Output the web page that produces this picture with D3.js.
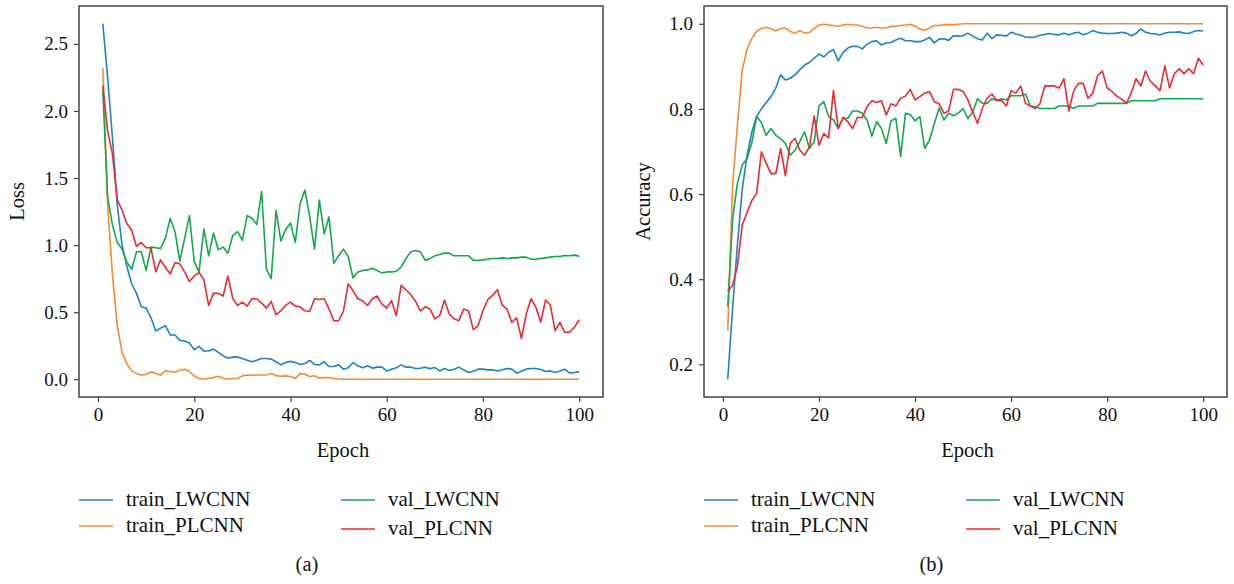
<!DOCTYPE html>
<html>
<head>
<meta charset="utf-8">
<script src="https://cdn.jsdelivr.net/npm/d3@7"></script>
<style>
  html, body { margin: 0; padding: 0; background: #fff; }
  svg { display: block; font-family: "Liberation Serif", "Times New Roman", serif; }
</style>
</head>
<body>
<svg id="chart" width="1234" height="584"></svg>
<script>
// Epochs 1..100
const epochs = d3.range(1, 101);

// Loss curves (panel a)
const lossTrainLW = [2.65,2.25,1.80,1.30,1.00,0.84,0.71,0.64,0.54,0.53,0.46,0.36,0.38,0.40,0.33,0.33,0.29,0.285,0.27,0.22,
  0.245,0.21,0.21,0.225,0.20,0.175,0.157,0.165,0.165,0.155,0.142,0.13,0.142,0.155,0.155,0.15,0.13,0.107,0.125,0.133,
  0.125,0.11,0.117,0.14,0.11,0.107,0.13,0.095,0.095,0.107,0.075,0.085,0.125,0.10,0.085,0.10,0.083,0.09,0.09,0.062,
  0.075,0.085,0.107,0.09,0.09,0.08,0.082,0.09,0.079,0.087,0.062,0.08,0.065,0.075,0.09,0.07,0.05,0.06,0.075,0.075,
  0.07,0.07,0.062,0.07,0.08,0.075,0.045,0.06,0.075,0.08,0.08,0.072,0.058,0.062,0.05,0.062,0.075,0.045,0.05,0.055];
const lossTrainPL = [2.32,1.30,0.78,0.40,0.20,0.115,0.062,0.042,0.03,0.037,0.055,0.045,0.03,0.062,0.057,0.052,0.067,0.075,0.057,0.025,
  0.005,0.0,0.007,0.012,0.022,0.007,0.002,0.005,0.005,0.025,0.032,0.03,0.032,0.032,0.032,0.042,0.027,0.022,0.025,0.02,
  0.005,0.042,0.037,0.02,0.025,0.007,0.012,0.012,0.005,0.002,0,0,0,0,0,0,0,0,0,0,
  0,0,0,0,0,0,0,0,0,0,0,0,0,0,0,0,0,0,0,0,
  0,0,0,0,0,0,0,0,0,0,0,0,0,0,0,0,0,0,0,0];
const lossValLW = [2.15,1.36,1.15,1.02,0.97,0.87,0.82,0.95,0.95,0.81,0.985,0.98,0.975,1.05,1.20,1.10,0.88,1.05,1.22,0.875,
  0.80,1.12,0.92,1.09,0.965,0.985,0.94,1.07,1.10,1.035,1.22,1.20,1.155,1.40,0.82,0.75,1.26,1.03,1.115,1.165,
  1.02,1.31,1.41,1.21,0.97,1.335,1.085,1.21,0.865,0.92,0.97,0.915,0.756,0.80,0.81,0.815,0.828,0.81,0.793,0.80,
  0.80,0.805,0.835,0.90,0.95,0.96,0.95,0.886,0.90,0.92,0.93,0.94,0.94,0.92,0.92,0.92,0.92,0.886,0.886,0.89,
  0.895,0.90,0.90,0.905,0.90,0.905,0.905,0.91,0.91,0.895,0.895,0.90,0.905,0.91,0.915,0.915,0.922,0.92,0.925,0.918];
const lossValPL = [2.19,1.85,1.68,1.34,1.26,1.16,1.11,0.99,1.02,0.98,0.98,0.80,0.89,0.835,0.785,0.87,0.86,0.80,0.728,0.77,
  0.795,0.743,0.55,0.64,0.64,0.62,0.77,0.603,0.55,0.575,0.545,0.60,0.60,0.568,0.53,0.58,0.481,0.51,0.55,0.575,
  0.545,0.54,0.51,0.505,0.60,0.595,0.60,0.525,0.436,0.436,0.506,0.71,0.66,0.60,0.585,0.55,0.60,0.62,0.56,0.53,
  0.585,0.474,0.70,0.667,0.63,0.58,0.51,0.54,0.523,0.45,0.474,0.59,0.486,0.45,0.436,0.523,0.51,0.369,0.40,0.51,
  0.594,0.625,0.667,0.553,0.523,0.424,0.457,0.304,0.486,0.60,0.536,0.424,0.59,0.553,0.362,0.424,0.35,0.35,0.387,0.443];

// Accuracy curves (panel b)
const accTrainLW = [0.165,0.33,0.48,0.61,0.69,0.745,0.782,0.80,0.815,0.829,0.849,0.88,0.868,0.872,0.88,0.892,0.903,0.909,0.919,0.929,
  0.922,0.933,0.939,0.913,0.933,0.943,0.947,0.947,0.941,0.952,0.958,0.96,0.95,0.955,0.956,0.962,0.966,0.96,0.96,0.958,
  0.958,0.962,0.968,0.955,0.964,0.965,0.961,0.972,0.971,0.972,0.978,0.971,0.965,0.962,0.978,0.965,0.974,0.973,0.971,0.98,
  0.976,0.973,0.969,0.968,0.969,0.973,0.975,0.977,0.975,0.974,0.978,0.974,0.978,0.98,0.974,0.978,0.984,0.98,0.978,0.977,
  0.977,0.978,0.98,0.978,0.972,0.977,0.988,0.98,0.977,0.976,0.974,0.978,0.98,0.98,0.981,0.978,0.977,0.982,0.984,0.983];
const accTrainPL = [0.28,0.62,0.76,0.89,0.94,0.965,0.982,0.989,0.992,0.989,0.983,0.989,0.99,0.982,0.978,0.984,0.978,0.98,0.989,0.997,
  0.999,0.997,0.996,0.994,0.997,0.999,0.997,0.997,0.994,0.99,0.99,0.992,0.99,0.99,0.994,0.994,0.996,0.997,0.999,0.994,
  0.988,0.985,0.99,0.996,0.996,0.998,0.998,0.998,0.999,1,1,1,1,1,1,1,1,1,1,1,
  1,1,1,1,1,1,1,1,1,1,1,1,1,1,1,1,1,1,1,1,
  1,1,1,1,1,1,1,1,1,1,1,1,1,1,1,1,1,1,1,1];
const accValLW = [0.336,0.54,0.625,0.668,0.683,0.72,0.782,0.768,0.738,0.754,0.738,0.73,0.719,0.691,0.703,0.723,0.746,0.707,0.723,0.807,
  0.817,0.782,0.774,0.754,0.778,0.778,0.795,0.795,0.79,0.774,0.736,0.77,0.754,0.719,0.772,0.778,0.689,0.79,0.786,0.772,
  0.782,0.707,0.727,0.765,0.802,0.774,0.79,0.784,0.79,0.801,0.777,0.793,0.824,0.813,0.813,0.824,0.82,0.824,0.821,0.831,
  0.831,0.831,0.835,0.807,0.805,0.801,0.801,0.801,0.801,0.807,0.807,0.807,0.801,0.807,0.807,0.807,0.807,0.813,0.813,0.813,
  0.813,0.813,0.813,0.813,0.819,0.819,0.819,0.819,0.819,0.819,0.824,0.824,0.824,0.824,0.824,0.824,0.824,0.824,0.824,0.824];
const accValPL = [0.372,0.385,0.43,0.527,0.556,0.585,0.601,0.699,0.672,0.648,0.648,0.707,0.643,0.719,0.731,0.703,0.691,0.711,0.783,0.715,
  0.742,0.732,0.843,0.754,0.78,0.77,0.754,0.78,0.78,0.805,0.819,0.815,0.819,0.786,0.812,0.807,0.825,0.83,0.846,0.821,
  0.829,0.837,0.841,0.817,0.812,0.79,0.795,0.846,0.846,0.841,0.821,0.793,0.766,0.801,0.825,0.835,0.82,0.82,0.807,0.843,
  0.837,0.854,0.813,0.807,0.801,0.812,0.854,0.854,0.854,0.849,0.871,0.795,0.841,0.86,0.86,0.825,0.837,0.878,0.889,0.849,
  0.841,0.83,0.823,0.813,0.837,0.871,0.854,0.889,0.865,0.854,0.843,0.901,0.849,0.883,0.894,0.883,0.894,0.883,0.919,0.903];

const seriesNames = ['train_LWCNN', 'train_PLCNN', 'val_LWCNN', 'val_PLCNN'];
const seriesColors = ['#1f82c4', '#f68a33', '#14a84c', '#ec2a32'];

const epochTicks = [0, 20, 40, 60, 80, 100];
const lossTicks = [0.0, 0.5, 1.0, 1.5, 2.0, 2.5];
const accTicks = [0.2, 0.4, 0.6, 0.8, 1.0];

const svg = d3.select('#chart');
const frameColor = '#444';

// matplotlib-like 5% margins around data
function padded(lo, hi) {
  const m = (hi - lo) * 0.05;
  return [lo - m, hi + m];
}

function drawPanel(opts) {
  const { left, right, top, bottom, data, yTicks, yLabel, tag, labelX, legendX } = opts;

  const x = d3.scaleLinear().domain(padded(1, 100)).range([left, right]);
  const allVals = data.flat();
  const y = d3.scaleLinear().domain(padded(d3.min(allVals), d3.max(allVals))).range([bottom, top]);

  const g = svg.append('g');

  // x axis
  const xAxis = g.append('g')
    .attr('transform', `translate(0,${bottom})`)
    .call(d3.axisBottom(x).tickValues(epochTicks).tickSize(5).tickPadding(6).tickFormat(d3.format('d')));
  xAxis.select('.domain').remove();
  xAxis.selectAll('line').attr('stroke', frameColor).attr('stroke-width', 1.2);
  xAxis.selectAll('text').attr('font-size', 19).attr('fill', '#111')
    .attr('font-family', '"Liberation Serif", serif');

  // y axis
  const yAxis = g.append('g')
    .attr('transform', `translate(${left},0)`)
    .call(d3.axisLeft(y).tickValues(yTicks).tickSize(5).tickPadding(6).tickFormat(d3.format('.1f')));
  yAxis.select('.domain').remove();
  yAxis.selectAll('line').attr('stroke', frameColor).attr('stroke-width', 1.2);
  yAxis.selectAll('text').attr('font-size', 19).attr('fill', '#111')
    .attr('font-family', '"Liberation Serif", serif');

  // lines
  const line = d3.line().x((d, i) => x(epochs[i])).y(d => y(d));
  data.forEach((vals, k) => {
    g.append('path')
      .datum(vals)
      .attr('fill', 'none')
      .attr('stroke', seriesColors[k])
      .attr('stroke-width', 1.6)
      .attr('stroke-linejoin', 'round')
      .attr('d', line);
  });

  // frame
  g.append('rect')
    .attr('x', left).attr('y', top)
    .attr('width', right - left).attr('height', bottom - top)
    .attr('fill', 'none').attr('stroke', frameColor).attr('stroke-width', 1.5);

  // axis titles
  g.append('text')
    .attr('x', (left + right) / 2 + 2).attr('y', 457)
    .attr('text-anchor', 'middle').attr('font-size', 20.5).attr('fill', '#111')
    .text('Epoch');
  g.append('text')
    .attr('transform', `translate(${labelX},${(top + bottom) / 2}) rotate(-90)`)
    .attr('text-anchor', 'middle').attr('font-size', 20.5).attr('fill', '#111')
    .text(yLabel);

  // legend
  const cols = [legendX, legendX + 262];
  const rows = [[500, 526], [500, 529]];
  seriesNames.forEach((name, k) => {
    const c = Math.floor(k / 2), r = k % 2;
    const lx = cols[c], ly = rows[c][r];
    g.append('line')
      .attr('x1', lx).attr('x2', lx + 34)
      .attr('y1', ly).attr('y2', ly)
      .attr('stroke', seriesColors[k]).attr('stroke-width', 1.6);
    g.append('text')
      .attr('x', lx + 47).attr('y', ly + 6)
      .attr('font-size', 21).attr('fill', '#111')
      .text(name);
  });

  // panel tag
  g.append('text')
    .attr('x', (left + right) / 2 - 34).attr('y', 571)
    .attr('text-anchor', 'middle').attr('font-size', 20.5).attr('fill', '#111')
    .text(tag);
}

drawPanel({
  left: 79, right: 603, top: 6, bottom: 397,
  data: [lossTrainLW, lossTrainPL, lossValLW, lossValPL],
  yTicks: lossTicks, yLabel: 'Loss', tag: '(a)', labelX: 24, legendX: 79
});

drawPanel({
  left: 704, right: 1227, top: 6, bottom: 397,
  data: [accTrainLW, accTrainPL, accValLW, accValPL],
  yTicks: accTicks, yLabel: 'Accuracy', tag: '(b)', labelX: 650, legendX: 704
});
</script>
</body>
</html>
